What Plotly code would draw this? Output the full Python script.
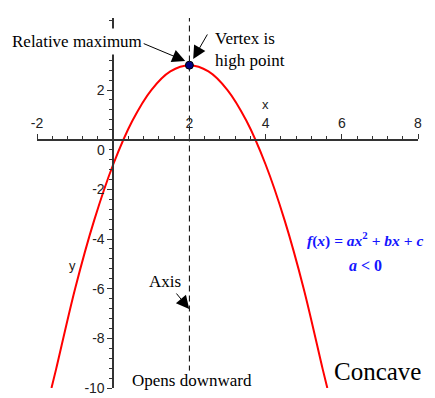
import plotly.graph_objects as go

# ---- data ----
curve_x = [-1.62, -1.5, -1.0, -0.5, 0.0, 0.5, 1.0, 1.5, 2.0, 2.5, 3.0, 3.5, 4.0, 4.5, 5.0, 5.5, 5.62]
curve_y = [-10.0, -9.25, -6.0, -3.25, -1.0, 0.75, 2.0, 2.75, 3.0, 2.75, 2.0, 0.75, -1.0, -3.25, -6.0, -9.25, -10.0]
vertex_x = [2.0]
vertex_y = [3.0]
axis_sym_x = [2.0, 2.0]
axis_sym_y = [5.0, -9.3]
x_tickvals = [-2, 2, 4, 6, 8]
x_ticktext = ["-2", "2", "4", "6", "8"]
y_tickvals = [-10, -8, -6, -4, -2, 2]
y_ticktext = ["-10", "-8", "-6", "-4", "-2", "2"]
x_range = [-2, 8]
y_range = [-10, 4.9]

SERIF = "Liberation Serif, Times New Roman, serif"
SANS = "Liberation Sans, Arial, sans-serif"

fig = go.Figure()
fig.add_trace(go.Scatter(x=axis_sym_x, y=axis_sym_y, mode="lines",
                         line=dict(color="black", width=1, dash="6px,4px"),
                         hoverinfo="skip"))
fig.add_trace(go.Scatter(x=curve_x, y=curve_y, mode="lines",
                         line=dict(color="#ff0000", width=2, shape="spline", smoothing=1.0),
                         hoverinfo="skip"))
fig.add_trace(go.Scatter(x=vertex_x, y=vertex_y, mode="markers",
                         marker=dict(color="#000080", size=8, line=dict(color="black", width=1)),
                         hoverinfo="skip"))

xpos_frac = (0 - y_range[0]) / (y_range[1] - y_range[0])
ypos_frac = (0 - x_range[0]) / (x_range[1] - x_range[0])

# page body has an 8px default margin; figure sized to fill the rest of the window
fig.update_layout(
    width=427, height=390,
    margin=dict(l=29, r=17, t=10, b=10),
    paper_bgcolor="white", plot_bgcolor="white",
    showlegend=False,
    xaxis=dict(range=x_range, domain=[0, 1], anchor="free", position=xpos_frac,
               automargin=False,
               side="top", showline=True, linecolor="#333", linewidth=1.5,
               showgrid=False, zeroline=False,
               ticks="outside", ticklen=5, tickcolor="#333", tickwidth=1,
               tickvals=x_tickvals, ticktext=x_ticktext,
               tickfont=dict(family=SANS, size=14, color="#222"),
               minor=dict(ticks="outside", ticklen=3, tickcolor="#333", dtick=0.4, tick0=0, showgrid=False)),
    yaxis=dict(range=y_range, domain=[0, 1], anchor="free", position=ypos_frac,
               automargin=False,
               side="left", showline=True, linecolor="#333", linewidth=1.5,
               showgrid=False, zeroline=False,
               ticks="outside", ticklen=5, tickcolor="#333", tickwidth=1,
               tickvals=y_tickvals, ticktext=y_ticktext,
               tickfont=dict(family=SANS, size=14, color="#222"),
               minor=dict(ticks="outside", ticklen=3, tickcolor="#333", dtick=0.4, tick0=0, showgrid=False)),
)

# tick "0" shifted below the x axis, axis titles
fig.add_annotation(x=0, y=0, text="0", showarrow=False, xanchor="right", yshift=-10, xshift=-6,
                   font=dict(family=SANS, size=14, color="#222"))
fig.add_annotation(x=4.0, y=1.4, text="x", showarrow=False, font=dict(family=SANS, size=13, color="#222"))
fig.add_annotation(x=-1.08, y=-5.05, text="y", showarrow=False, font=dict(family=SANS, size=13, color="#222"))

# text labels
fig.add_annotation(x=-0.945, y=3.97, text="Relative maximum", showarrow=False,
                   bgcolor="white", borderpad=3, font=dict(family=SERIF, size=17, color="black"))
fig.add_annotation(x=2.62, y=3.63, text="Vertex is<br>high point", showarrow=False,
                   xanchor="left", align="left", font=dict(family=SERIF, size=17, color="black"))
fig.add_annotation(x=1.365, y=-5.73, text="Axis", showarrow=False,
                   font=dict(family=SERIF, size=17, color="black"))
fig.add_annotation(x=2.07, y=-9.71, text="Opens downward", showarrow=False,
                   font=dict(family=SERIF, size=17, color="black"))
fig.add_annotation(x=6.93, y=-9.35, text="Concave", showarrow=False,
                   font=dict(family=SERIF, size=25, color="black"))
fig.add_annotation(x=8, y=-4.0, xanchor="right", xshift=7,
                   text="<b><i>f</i>(<i>x</i>) = <i>ax</i><sup>2</sup> + <i>bx</i> + <i>c</i></b>",
                   showarrow=False, font=dict(family=SERIF, size=15.5, color="#1515ff"))
fig.add_annotation(x=6.61, y=-5.05, text="<b><i>a</i> &lt; 0</b>", showarrow=False,
                   font=dict(family=SERIF, size=16, color="#1515ff"))

# arrows
for tx, ty, ax, ay in [(1.89, 3.17, -43, -18), (2.1, 3.25, 15, -26), (1.995, -6.82, -14, -17)]:
    fig.add_annotation(x=tx, y=ty, ax=ax, ay=ay, text="", showarrow=True,
                       arrowhead=2, arrowsize=2.6, arrowwidth=1, arrowcolor="black", standoff=0)

fig.write_html("out.html", config={"displayModeBar": False})
